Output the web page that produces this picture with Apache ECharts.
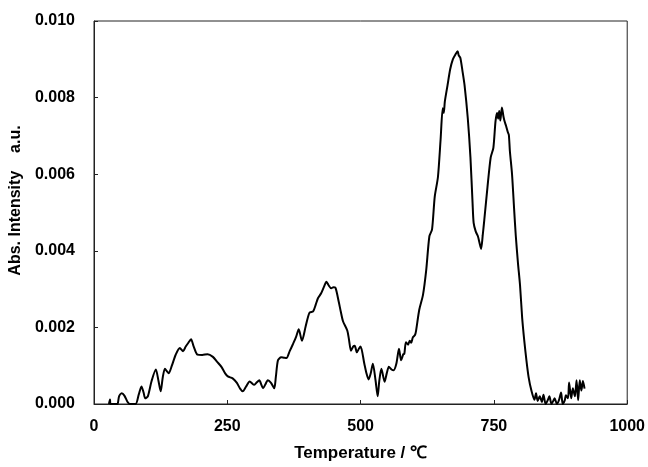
<!DOCTYPE html>
<html>
<head>
<meta charset="utf-8">
<script src="https://cdn.jsdelivr.net/npm/echarts@6/dist/echarts.min.js"></script>
<style>html,body{margin:0;padding:0;background:#fff}#c{width:648px;height:467px}</style>
</head>
<body>
<div id="c"></div>
<script>
var temps = [28,29,30,31,40,44,47,52,57,63,67,78,84,89,93,96,101,108,116,121,125,129,133,137,140,146,153,161,167,172,177,182,187,194,203,213,223,231,239,246,251,260,268,274,279,285,292,300,305,310,314,317,321,326,332,338,341,345,351,356,361,367,373,379,384,390,397,404,411,416,420,426,431,436,440,445,449,453,459,463,467,475,478,482,486,489,493,497,500,507,511,515,519,523,528,532,535,539,545,549,553,558,562,567,572,576,580,582,585,589,592,595,598,602,604,610,617,623,629,634,639,645,650,654,656,658,663,668,673,678,682,684,687,691,695,701,706,710,712,716,720,723,726,729,732,738,744,749,753,756,758,760,762,765,768,770,773,776,778,780,784,788,791,795,799,803,807,811,815,820,826,829,832,836,840,843,847,851,854,858,862,864,868,872,876,879,883,885,889,891,895,898,902,905,908,911,914,917,920];
var intensity = [0,0,0.00012,0,0,0,0.0002,0.00028,0.00022,0.00005,0,0,0.00025,0.00046,0.0003,0.00015,0.0002,0.0006,0.0009,0.0006,0.00033,0.0007,0.00092,0.00085,0.0008,0.001,0.00128,0.00146,0.00138,0.0015,0.0016,0.00169,0.0015,0.00129,0.00128,0.0013,0.00123,0.0011,0.00097,0.0008,0.00072,0.00067,0.00055,0.0004,0.00033,0.00045,0.00059,0.0005,0.00056,0.00062,0.0005,0.00041,0.0005,0.00062,0.00055,0.00041,0.0007,0.00114,0.00122,0.00121,0.0012,0.00138,0.00156,0.00175,0.00195,0.00165,0.00203,0.00238,0.00242,0.0026,0.00276,0.00289,0.00305,0.00319,0.0031,0.00302,0.00305,0.00303,0.00267,0.0024,0.00216,0.00192,0.0017,0.00139,0.0015,0.00152,0.00135,0.00145,0.0015,0.00105,0.0008,0.00064,0.0008,0.00105,0.00062,0.0002,0.0006,0.00092,0.00058,0.0008,0.00097,0.0009,0.00088,0.00105,0.00144,0.00114,0.0013,0.00131,0.00161,0.00155,0.00165,0.0016,0.00174,0.0018,0.00191,0.00246,0.00285,0.00349,0.00438,0.00456,0.00541,0.00592,0.0069,0.00772,0.0076,0.0079,0.00832,0.00874,0.009,0.00913,0.00921,0.0091,0.00904,0.0087,0.00832,0.00746,0.00644,0.00524,0.00473,0.0045,0.00438,0.00421,0.00405,0.0044,0.00481,0.00567,0.00644,0.00669,0.00738,0.0076,0.00745,0.00765,0.0074,0.00774,0.0075,0.00738,0.00725,0.0071,0.00703,0.0066,0.006,0.00507,0.0044,0.0037,0.0031,0.00225,0.00165,0.00114,0.00071,0.00037,0.00011,0.00028,0.00008,0.0002,0.00005,0.00024,0,0.0001,0.0002,0,0.0001,0.00015,0,0.0001,0.0003,0,0.0001,0.00023,0.00015,0.00056,0.00015,0.00041,0.0002,0.00062,0.0001,0.00062,0.00035,0.0006,0.0004];
var xTicks = [0, 250, 500, 750, 1000];
var yTicks = [0, 0.002, 0.004, 0.006, 0.008, 0.010];
var xTitle = 'Temperature / ℃';
var yTitle = 'Abs. Intensity    a.u.';

var pts = temps.map(function (t, i) { return [t, intensity[i]]; });
var font = '"Liberation Sans", Arial, sans-serif';
var chart = echarts.init(document.getElementById('c'), null, { renderer: 'canvas' });
chart.setOption({
  animation: false,
  backgroundColor: '#fff',
  grid: { left: 94, right: 20, top: 21, bottom: 56, show: true, borderColor: '#222', borderWidth: 1, containLabel: false },
  xAxis: {
    type: 'value', min: xTicks[0], max: xTicks[xTicks.length - 1], interval: 250,
    name: xTitle, nameLocation: 'middle', nameGap: 41,
    nameTextStyle: { fontFamily: font, fontWeight: 'bold', fontSize: 17, color: '#000' },
    axisLine: { lineStyle: { color: '#222', width: 1 } },
    axisTick: { inside: true, length: 4, lineStyle: { color: '#222' } },
    axisLabel: { margin: 15, fontFamily: font, fontWeight: 'bold', fontSize: 16, color: '#000',
      formatter: function (v) { return String(v); } },
    splitLine: { show: false }
  },
  yAxis: {
    type: 'value', min: yTicks[0], max: yTicks[yTicks.length - 1], interval: 0.002,
    name: yTitle, nameLocation: 'middle', nameGap: 70,
    nameTextStyle: { fontFamily: font, fontWeight: 'bold', fontSize: 16, color: '#000', padding: [0, 0, 0, 24] },
    axisLine: { lineStyle: { color: '#222', width: 1 } },
    axisTick: { inside: true, length: 4, lineStyle: { color: '#222' } },
    axisLabel: { margin: 19, fontFamily: font, fontWeight: 'bold', fontSize: 16, color: '#000',
      formatter: function (v) { return v.toFixed(3); } },
    splitLine: { show: false }
  },
  series: [{
    type: 'line', data: pts, showSymbol: false, smooth: 0.25,
    lineStyle: { color: '#000', width: 2 }
  }]
});
</script>
</body>
</html>
